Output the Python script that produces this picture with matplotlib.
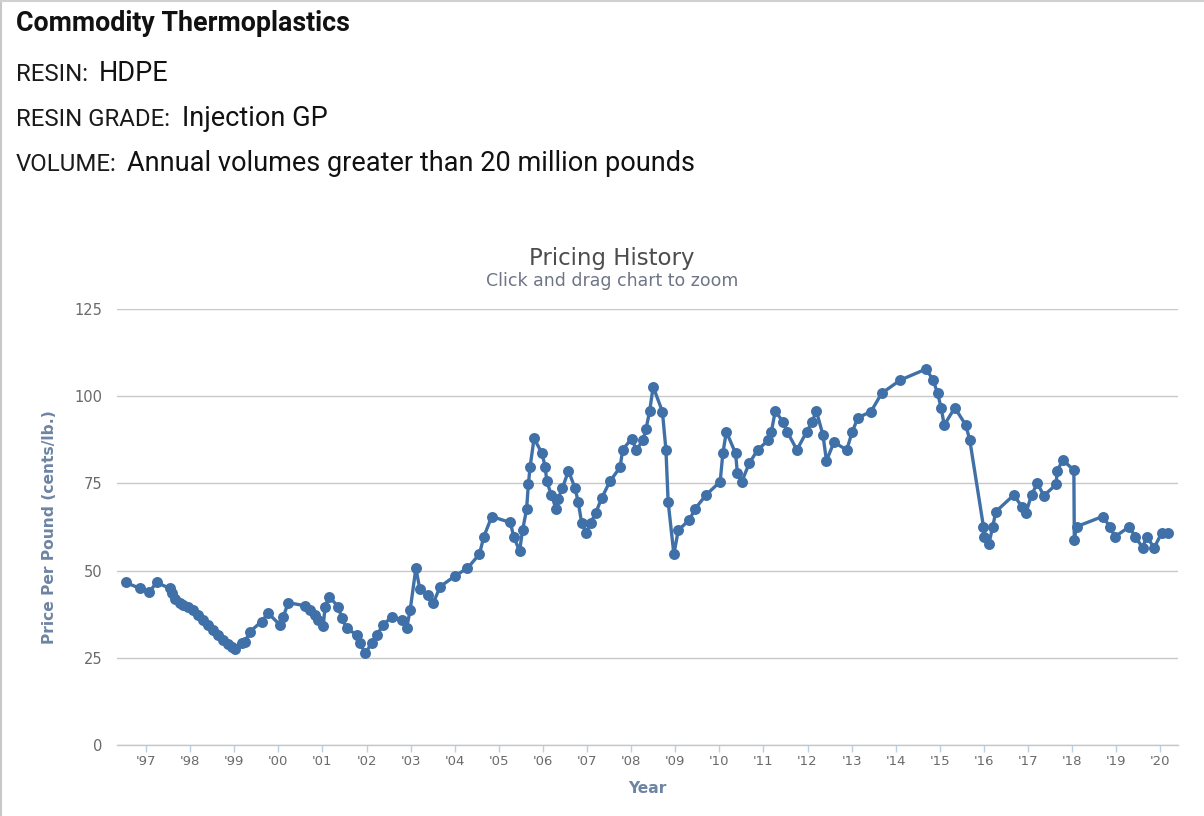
import matplotlib
matplotlib.use("Agg")
import matplotlib.pyplot as plt
from matplotlib.lines import Line2D

# ---------------- data ----------------
dates = [
    1996.54, 1996.86, 1997.07, 1997.24, 1997.54, 1997.58, 1997.66, 1997.77,
    1997.85, 1997.96, 1998.07, 1998.19, 1998.30, 1998.41, 1998.53, 1998.64,
    1998.75, 1998.87, 1998.94, 1999.02, 1999.17, 1999.24, 1999.36, 1999.62,
    1999.77, 2000.04, 2000.11, 2000.23, 2000.61, 2000.72, 2000.83, 2000.91,
    2001.02, 2001.06, 2001.15, 2001.36, 2001.44, 2001.55, 2001.78, 2001.85,
    2001.97, 2002.12, 2002.23, 2002.38, 2002.57, 2002.80, 2002.91, 2002.99,
    2003.12, 2003.21, 2003.40, 2003.51, 2003.67, 2004.01, 2004.29, 2004.56,
    2004.66, 2004.84, 2005.26, 2005.34, 2005.47, 2005.54, 2005.63, 2005.67,
    2005.71, 2005.80, 2005.98, 2006.05, 2006.09, 2006.19, 2006.30, 2006.34,
    2006.44, 2006.58, 2006.73, 2006.80, 2006.88, 2006.98, 2007.08, 2007.20,
    2007.33, 2007.52, 2007.75, 2007.81, 2008.01, 2008.12, 2008.27, 2008.34,
    2008.42, 2008.50, 2008.71, 2008.79, 2008.84, 2008.97, 2009.07, 2009.32,
    2009.45, 2009.70, 2010.02, 2010.08, 2010.16, 2010.37, 2010.41, 2010.51,
    2010.68, 2010.87, 2011.11, 2011.18, 2011.27, 2011.45, 2011.54, 2011.76,
    2011.98, 2012.10, 2012.20, 2012.35, 2012.43, 2012.60, 2012.89, 2013.01,
    2013.14, 2013.44, 2013.68, 2014.10, 2014.69, 2014.85, 2014.95, 2015.03,
    2015.10, 2015.34, 2015.59, 2015.68, 2015.99, 2016.01, 2016.11, 2016.20,
    2016.27, 2016.68, 2016.86, 2016.95, 2017.08, 2017.21, 2017.36, 2017.64,
    2017.66, 2017.79, 2018.04, 2018.05, 2018.10, 2018.69, 2018.86, 2018.97,
    2019.30, 2019.43, 2019.60, 2019.69, 2019.86, 2020.03, 2020.18,
]
prices = [
    46.6, 44.9, 43.8, 46.6, 44.9, 43.5, 41.8, 40.6,
    40.1, 39.5, 38.7, 37.3, 35.8, 34.4, 33.0, 31.5,
    30.1, 29.0, 28.0, 27.4, 29.2, 29.6, 32.5, 35.4,
    37.8, 34.4, 36.8, 40.8, 39.9, 38.7, 37.3, 35.8,
    34.1, 39.7, 42.5, 39.7, 36.3, 33.5, 31.5, 29.2,
    26.3, 29.2, 31.5, 34.4, 36.8, 35.8, 33.5, 38.7,
    50.7, 44.6, 43.0, 40.6, 45.4, 48.5, 50.7, 54.7,
    59.7, 65.5, 63.8, 59.7, 55.6, 61.6, 67.6, 74.7,
    79.8, 87.9, 83.6, 79.8, 75.6, 71.7, 67.7, 70.5,
    73.6, 78.6, 73.6, 69.7, 63.6, 60.7, 63.6, 66.6,
    70.7, 75.6, 79.6, 84.7, 87.8, 84.6, 87.4, 90.7,
    95.7, 102.7, 95.6, 84.6, 69.7, 54.7, 61.6, 64.5,
    67.7, 71.7, 75.5, 83.6, 89.8, 83.6, 77.9, 75.5,
    80.8, 84.6, 87.4, 89.8, 95.8, 92.5, 89.8, 84.6,
    89.8, 92.5, 95.8, 88.9, 81.5, 86.8, 84.6, 89.6,
    93.8, 95.6, 100.8, 104.6, 107.8, 104.6, 100.8, 96.7,
    91.7, 96.7, 91.7, 87.4, 62.6, 59.7, 57.5, 62.6,
    66.9, 71.7, 68.3, 66.4, 71.7, 75.0, 71.5, 74.7,
    78.6, 81.7, 78.8, 58.8, 62.6, 65.5, 62.6, 59.7,
    62.6, 59.7, 56.6, 59.7, 56.6, 60.7, 60.7,
]
year_ticks = list(range(1997, 2021))
year_labels = ["'" + str(y)[2:] for y in year_ticks]
y_ticks = [0, 25, 50, 75, 100, 125]

header_title = "Commodity Thermoplastics"
header_rows = [("RESIN:", "HDPE"),
               ("RESIN GRADE:", "Injection GP"),
               ("VOLUME:", "Annual volumes greater than 20 million pounds")]

# ---------------- figure ----------------
W, H = 1204, 816
fig = plt.figure(figsize=(W / 100, H / 100), dpi=100)
fig.patch.set_facecolor("white")

def fx(x):
    return x / W

def fy(y):
    return 1 - y / H

# thin light border (left and top)
fig.add_artist(Line2D([fx(1), fx(1)], [0, 1], color="#c8c8c8", lw=1.5))
fig.add_artist(Line2D([0, 1], [fy(1), fy(1)], color="#d0d0d0", lw=1.5))

# header block
fig.text(fx(16), fy(31), header_title, fontfamily="Roboto", fontweight="bold",
         fontsize=19.3, color="#111111", va="baseline")
row_base = [81, 126, 171]
value_x = [99, 182, 127]
for (lab, val), yb, vx in zip(header_rows, row_base, value_x):
    fig.text(fx(16), fy(yb), lab, fontfamily="Roboto", fontsize=17.3,
             color="#1a1a1a", va="baseline")
    fig.text(fx(vx), fy(yb), val, fontfamily="Roboto", fontsize=19.5,
             color="#111111", va="baseline")

# chart titles
fig.text(fx(612), fy(265), "Pricing History", fontfamily="DejaVu Sans",
         fontsize=16.5, color="#4d4d4d", ha="center", va="baseline")
fig.text(fx(612), fy(286), "Click and drag chart to zoom", fontfamily="DejaVu Sans",
         fontsize=12.5, color="#6e7587", ha="center", va="baseline")

# plot area
left, right, top, bottom = 117, 1178, 309, 745
ax = fig.add_axes([fx(left), fy(bottom), (right - left) / W, (bottom - top) / H])
ax.set_facecolor("white")

ax.plot(dates, prices, color="#4070A8", lw=2.4, marker="o", markersize=7.9,
        markeredgewidth=0, zorder=3, solid_joinstyle="round")

ax.set_ylim(0, 125)
ax.set_xlim(1997 + (left - 146) / 44.1, 1997 + (right - 146) / 44.1)

ax.set_yticks(y_ticks)
ax.set_yticklabels([str(v) for v in y_ticks], fontfamily="DejaVu Sans",
                   fontsize=10.5, color="#6a6a6a")
ax.set_xticks(year_ticks)
ax.set_xticklabels(year_labels, fontfamily="DejaVu Sans", fontsize=9.5,
                   color="#6a6a6a")
ax.yaxis.grid(True, color="#c8c8c8", lw=1.0)
ax.set_axisbelow(True)
ax.tick_params(axis="y", length=0, pad=10.5)
ax.tick_params(axis="x", length=5, width=1, color="#c0d0e0", pad=2, direction="out")
for s in ["top", "right", "left"]:
    ax.spines[s].set_visible(False)
ax.spines["bottom"].set_color("#c0c8d0")
ax.spines["bottom"].set_linewidth(1.0)

ax.set_ylabel("Price Per Pound (cents/lb.)", fontfamily="DejaVu Sans",
              fontweight="bold", fontsize=11.2, color="#6d84a3")
ax.yaxis.set_label_coords((57 - left) / (right - left), 0.5)
ax.set_xlabel("Year", fontfamily="DejaVu Sans", fontweight="bold",
              fontsize=11.2, color="#6d84a3")
ax.xaxis.set_label_coords(0.5, (bottom - 781) / (bottom - top))

fig.savefig("out.png", dpi=100, facecolor="white")
